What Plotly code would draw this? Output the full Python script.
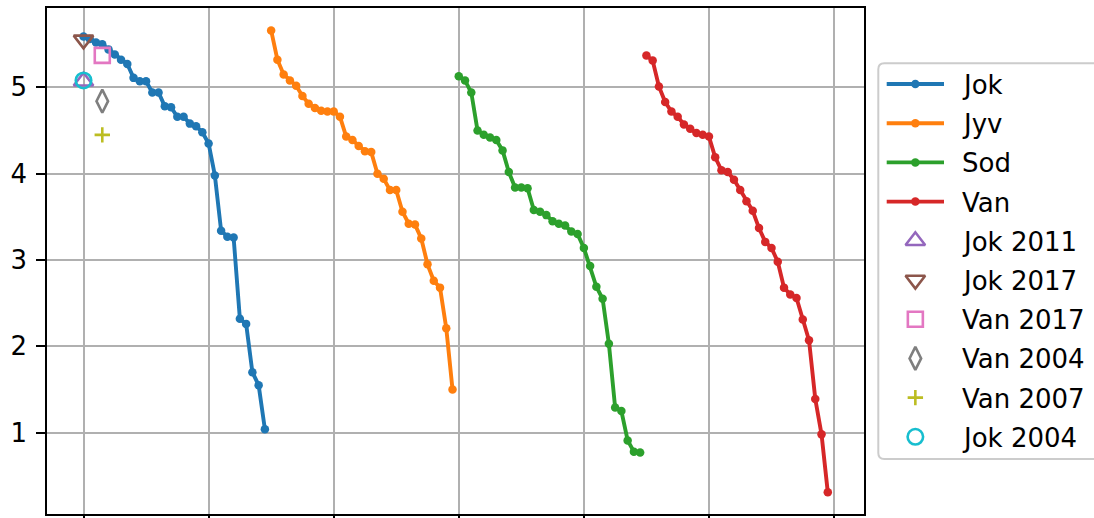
import plotly.graph_objects as go

# ---- data -------------------------------------------------------------
stations = ["Jok", "Jyv", "Sod", "Van"]

jok = [5.59, 5.56, 5.52, 5.50, 5.44, 5.38, 5.32, 5.27, 5.11, 5.07,
       5.07, 4.94, 4.94, 4.78, 4.77, 4.66, 4.66, 4.58, 4.55, 4.48,
       4.35, 3.98, 3.34, 3.27, 3.26, 2.32, 2.26, 1.70, 1.55, 1.04]
jyv = [5.66, 5.32, 5.15, 5.08, 5.02, 4.90, 4.81, 4.76, 4.73, 4.72,
       4.72, 4.66, 4.43, 4.39, 4.32, 4.26, 4.25, 4.00, 3.94, 3.81,
       3.81, 3.56, 3.42, 3.41, 3.25, 2.95, 2.76, 2.68, 2.21, 1.50]
sod = [5.13, 5.08, 4.94, 4.50, 4.45, 4.42, 4.39, 4.27, 4.02, 3.84,
       3.84, 3.83, 3.58, 3.56, 3.52, 3.45, 3.42, 3.40, 3.33, 3.30,
       3.14, 2.93, 2.69, 2.55, 2.03, 1.29, 1.25, 0.91, 0.78, 0.77]
van = [5.37, 5.31, 5.01, 4.83, 4.72, 4.66, 4.57, 4.52, 4.47, 4.45,
       4.43, 4.19, 4.04, 4.02, 3.93, 3.81, 3.68, 3.57, 3.37, 3.21,
       3.14, 2.98, 2.68, 2.60, 2.56, 2.31, 2.07, 1.39, 0.98, 0.31]

# single-year observations
point_labels = ["Jok 2011", "Jok 2017", "Van 2017", "Van 2004", "Van 2007", "Jok 2004"]
point_x = [0, 0, 3, 3, 3, 0]
point_y = [5.07, 5.55, 5.37, 4.84, 4.45, 5.08]

y_ticks = [1, 2, 3, 4, 5]
x_ticks = [0, 20, 40, 60, 80, 100, 120]

# ---- style ------------------------------------------------------------
line_colors = ["#1f77b4", "#ff7f0e", "#2ca02c", "#d62728"]
point_colors = ["#9467bd", "#8c564b", "#e377c2", "#7f7f7f", "#bcbd22", "#17becf"]
point_symbols = ["triangle-up-open", "triangle-down-open", "square-open",
                 "diamond-tall-open", "cross-thin-open", "circle-open"]
point_sizes = [17, 17, 15, 16.5, 11, 15.5]

W, H = 1094, 518
FONT = "DejaVu Sans"
FS = 26
AX_L, AX_R, AX_T, AX_B = 46.3, 865.0, 7.3, 515.3   # axes box (spine centres), px
LW_SPINE = 2

fig = go.Figure()

all_x, all_y = [], []
offset = 0
for name, vals, col in zip(stations, [jok, jyv, sod, van], line_colors):
    xs = list(range(offset, offset + len(vals)))
    offset += len(vals)
    all_x += xs
    all_y += vals
    fig.add_trace(go.Scatter(
        x=xs, y=vals, name=name, mode="lines+markers",
        line=dict(color=col, width=3.9),
        marker=dict(size=8.5, color=col),
        showlegend=False, hoverinfo="skip",
    ))

all_x += point_x
all_y += point_y
for lab, px_, py_, sym, col, sz in zip(point_labels, point_x, point_y,
                                       point_symbols, point_colors, point_sizes):
    fig.add_trace(go.Scatter(
        x=[px_], y=[py_], name=lab, mode="markers",
        marker=dict(symbol=sym, size=sz, color=col, line=dict(color=col, width=2.6)),
        showlegend=False, hoverinfo="skip",
    ))


def padded(lo, hi, frac=0.05):
    d = (hi - lo) * frac
    return lo - d, hi + d


def inner_range(r, p0, p1, inset):
    # plotly paints the axis line just outside the domain, so shrink by the
    # spine half-width while keeping the data-to-pixel mapping
    s = (r[1] - r[0]) / (p1 - p0)
    return [r[0] + s * inset, r[1] - s * inset]


xr = inner_range(padded(min(all_x), max(all_x)), AX_L, AX_R, LW_SPINE / 2)
yr = inner_range(padded(min(all_y), max(all_y)), AX_T, AX_B, LW_SPINE / 2)

xdom = [(AX_L + 1) / W, (AX_R - 1) / W]
ydom = [1 - (AX_B - 1) / H, 1 - (AX_T + 1) / H]

axis_common = dict(
    showgrid=True, gridcolor="#b0b0b0", gridwidth=2,
    showline=True, linecolor="black", linewidth=LW_SPINE, mirror=True,
    ticks="outside", ticklen=9, tickwidth=2, tickcolor="black",
    zeroline=False, automargin=False,
)

# ---- legend drawn in a pixel-space overlay ----------------------------
leg_names = stations + point_labels
row0, row_step = 84.0, 39.2
handle_x0, handle_x1 = 886.7, 944.0
handle_mid = (handle_x0 + handle_x1) / 2
text_x = 960.0
frame_l, frame_t, frame_b, rad = 878.3, 63.3, 459.0, 6

for k, (name, col) in enumerate(zip(stations, line_colors)):
    ry = row0 + k * row_step
    fig.add_trace(go.Scatter(
        x=[handle_x0, handle_x1], y=[ry, ry], mode="lines",
        line=dict(color=col, width=3.9), xaxis="x2", yaxis="y2",
        showlegend=False, hoverinfo="skip",
    ))
    fig.add_trace(go.Scatter(
        x=[handle_mid], y=[ry], mode="markers",
        marker=dict(size=8.5, color=col), xaxis="x2", yaxis="y2",
        showlegend=False, hoverinfo="skip",
    ))

for j, (sym, col, sz) in enumerate(zip(point_symbols, point_colors, point_sizes)):
    ry = row0 + (len(stations) + j) * row_step
    fig.add_trace(go.Scatter(
        x=[handle_mid], y=[ry], mode="markers",
        marker=dict(symbol=sym, size=sz, color=col, line=dict(color=col, width=2.6)),
        xaxis="x2", yaxis="y2", showlegend=False, hoverinfo="skip",
    ))

annotations = []
for k, name in enumerate(leg_names):
    annotations.append(dict(
        x=text_x, y=row0 + 1 + k * row_step, xref="x2", yref="y2",
        text=name, showarrow=False, xanchor="left", yanchor="middle",
        font=dict(family=FONT, size=FS, color="black"),
    ))

frame_path = (
    f"M 1110,{frame_t} L {frame_l + rad},{frame_t} "
    f"Q {frame_l},{frame_t} {frame_l},{frame_t + rad} "
    f"L {frame_l},{frame_b - rad} "
    f"Q {frame_l},{frame_b} {frame_l + rad},{frame_b} L 1110,{frame_b}"
)

fig.update_layout(
    width=W, height=H,
    margin=dict(l=0, r=0, t=0, b=0, autoexpand=False),
    paper_bgcolor="white", plot_bgcolor="rgba(0,0,0,0)",
    font=dict(family=FONT, size=FS, color="black"),
    showlegend=False,
    xaxis=dict(domain=xdom, range=xr, tickvals=x_ticks, showticklabels=False,
               **axis_common),
    yaxis=dict(domain=ydom, range=yr, tickvals=y_ticks, ticklabelstandoff=4,
               tickfont=dict(family=FONT, size=FS, color="black"),
               **axis_common),
    xaxis2=dict(domain=[0, 1], range=[0, W], visible=False, anchor="y2"),
    yaxis2=dict(domain=[0, 1], range=[H, 0], visible=False, anchor="x2"),
    shapes=[dict(type="path", path=frame_path, xref="x2", yref="y2",
                 line=dict(color="#cccccc", width=2), fillcolor="white",
                 layer="between")],
    annotations=annotations,
)

fig.write_html("out.html")
